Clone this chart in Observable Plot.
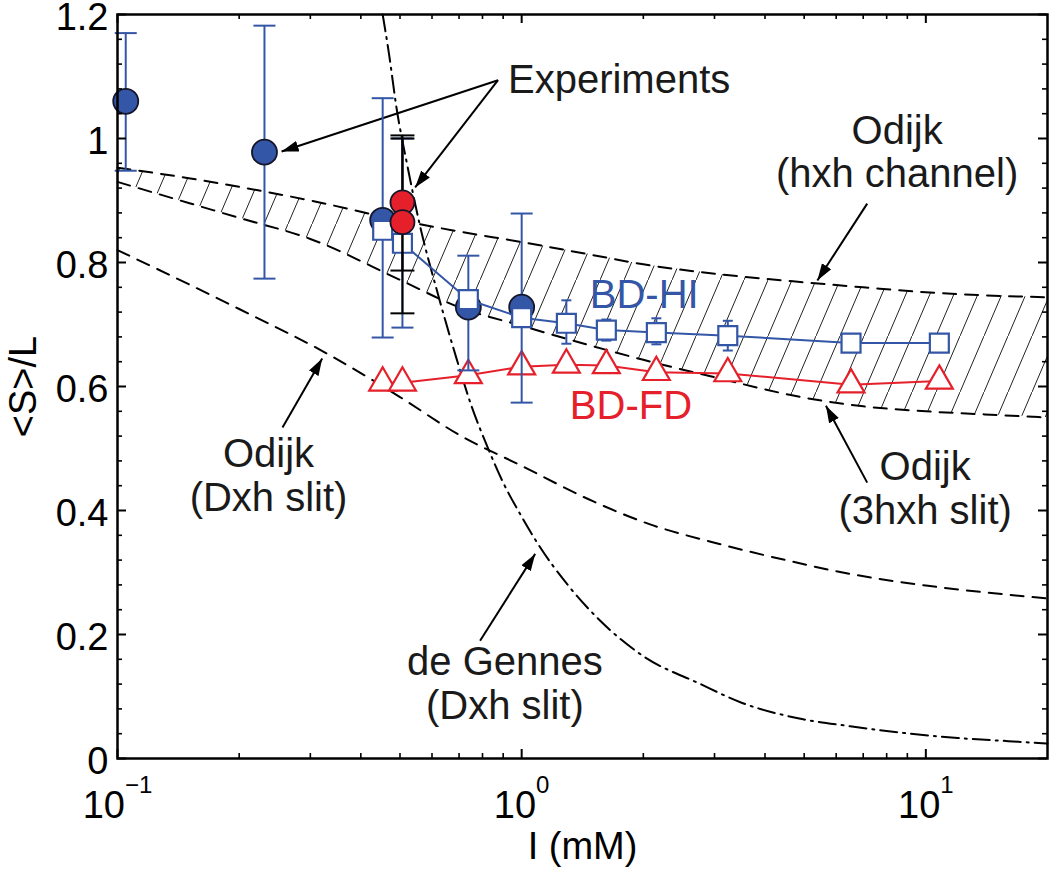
<!DOCTYPE html>
<html>
<head>
<meta charset="utf-8">
<script src="https://cdn.jsdelivr.net/npm/d3@7"></script>
<script src="https://cdn.jsdelivr.net/npm/@observablehq/plot@0.6"></script>
<style>
  body { margin: 0; background: #fff; }
  #chart svg { display: block; }
</style>
</head>
<body>
<div id="chart"></div>
<script>
// ---------------- DATA ----------------
// Axis ticks
const xTickValues = [0.1, 1, 10];
const xTickBase = "10";
const xTickExp = ["\u22121", "0", "1"];
const xMinorTicks = [0.2, 0.3, 0.4, 0.5, 0.6, 0.7, 0.8, 0.9, 2, 3, 4, 5, 6, 7, 8, 9];
const yTickValues = [0, 0.2, 0.4, 0.6, 0.8, 1.0, 1.2];
const yMinorTicks = [0.04,0.08,0.12,0.16,0.24,0.28,0.32,0.36,0.44,0.48,0.52,0.56,0.64,0.68,0.72,0.76,0.84,0.88,0.92,0.96,1.04,1.08,1.12,1.16];

// Experiments (blue circles with error bars)
const expX  = [0.1048, 0.231, 0.453, 0.738, 1.0];
const expY  = [1.060, 0.978, 0.868, 0.728, 0.728];
const expLo = [0.948, 0.774, 0.679, 0.626, 0.574];
const expHi = [1.170, 1.182, 1.065, 0.811, 0.879];
// extra blue error bar (marker hidden)
const expExtraX = [0.507];
const expExtraLo = [0.695];
const expExtraHi = [1.0];

// Experiments (red circles, black error bars)
const redX  = [0.507, 0.507];
const redY  = [0.897, 0.865];
const redLo = [0.787, 0.718];
const redHi = [1.005, 1.000];

// Simulations
const simX = [0.453, 0.507, 0.738, 1.0, 1.29, 1.62, 2.154, 3.236, 6.53, 10.8];
const bdHI = [0.852, 0.831, 0.740, 0.711, 0.702, 0.691, 0.687, 0.682, 0.670, 0.670];
const bdFD = [0.606, 0.606, 0.618, 0.632, 0.635, 0.634, 0.623, 0.621, 0.603, 0.609];
const hiErrX  = [1.29, 1.62, 2.154, 3.236];
const hiErrLo = [0.669, 0.674, 0.668, 0.658];
const hiErrHi = [0.739, 0.708, 0.710, 0.706];

// Theory curves
const odijkBandX = [0.1, 0.15, 0.2, 0.3, 0.5, 0.7, 1, 1.5, 2, 3, 5, 7, 10, 14, 20];
const odijkChannelY = [0.953, 0.936, 0.922, 0.900, 0.868, 0.850, 0.833, 0.812, 0.797, 0.782, 0.768, 0.760, 0.752, 0.747, 0.744];
const odijk3hSlitY  = [0.930, 0.896, 0.872, 0.838, 0.772, 0.728, 0.698, 0.665, 0.643, 0.615, 0.582, 0.568, 0.560, 0.555, 0.550];

const odijkSlitX = [0.1, 0.15, 0.2, 0.33, 0.5, 0.7, 1, 1.5, 2.07, 3, 4.5, 6.46, 10, 14, 20];
const odijkSlitY = [0.820, 0.765, 0.725, 0.653, 0.583, 0.522, 0.472, 0.415, 0.378, 0.348, 0.320, 0.298, 0.279, 0.268, 0.258];

const deGennesX = [0.453, 0.47, 0.49, 0.52, 0.56, 0.62, 0.69, 0.75, 0.82, 0.9, 1.0, 1.1, 1.3, 1.56, 2.0, 2.75, 3.5, 4.86, 6.5, 8.6, 12, 16, 20];
const deGennesY = [1.2, 1.135, 1.05, 0.96, 0.86, 0.75, 0.645, 0.57, 0.505, 0.445, 0.39, 0.345, 0.28, 0.223, 0.165, 0.121, 0.09, 0.0645, 0.052, 0.042, 0.033, 0.028, 0.024];

// Annotations
const noteText = ["Odijk\n(hxh channel)", "Odijk\n(3hxh slit)", "Odijk\n(Dxh slit)", "de Gennes\n(Dxh slit)"];
const noteX = [8.49, 9.96, 0.2364, 0.909];
const noteY = [0.921, 0.379, 0.400, 0.0645];
const expLabel = ["Experiments"];
const expLabelX = [0.925];
const expLabelY = [1.0726];
const arrowX1 = [0.874, 0.874, 7.16, 7.16, 0.256, 0.789];
const arrowY1 = [1.094, 1.094, 0.895, 0.445, 0.534, 0.190];
const arrowX2 = [0.2547, 0.545, 5.39, 5.66, 0.321, 1.08];
const arrowY2 = [0.979, 0.921, 0.771, 0.569, 0.645, 0.330];
const seriesLabels = ["BD-HI", "BD-FD"];
const seriesLabelX = [1.474, 1.316];
const seriesLabelY = [0.727, 0.548];

// ---------------- TABLES ----------------
const BLUE = "#3456a6", RED = "#e5202b";
const exp = expX.map((x, i) => ({x, y: expY[i], lo: expLo[i], hi: expHi[i]}));
const expExtra = expExtraX.map((x, i) => ({x, lo: expExtraLo[i], hi: expExtraHi[i]}));
const red = redX.map((x, i) => ({x, y: redY[i], lo: redLo[i], hi: redHi[i]}));
const hi = simX.map((x, i) => ({x, y: bdHI[i]}));
const fd = simX.map((x, i) => ({x, y: bdFD[i]}));
const hiErr = hiErrX.map((x, i) => ({x, lo: hiErrLo[i], hi: hiErrHi[i]}));
const band = odijkBandX.map((x, i) => ({x, lo: odijk3hSlitY[i], hi: odijkChannelY[i]}));
const slit = odijkSlitX.map((x, i) => ({x, y: odijkSlitY[i]}));
const dg = deGennesX.map((x, i) => ({x, y: deGennesY[i]}));
const notes = noteText.map((t, i) => ({t, x: noteX[i], y: noteY[i]}));
const expNote = expLabel.map((t, i) => ({t, x: expLabelX[i], y: expLabelY[i]}));
const arrows = arrowX1.map((x1, i) => ({x1, y1: arrowY1[i], x2: arrowX2[i], y2: arrowY2[i]}));
const sLabels = seriesLabels.map((t, i) => ({t, x: seriesLabelX[i], y: seriesLabelY[i], c: i === 0 ? BLUE : RED}));

// ---------------- LAYOUT ----------------
const W = 1050, H = 869, ML = 117, MR = 3, MT = 14, MB = 111;
const PW = W - ML - MR, PH = H - MT - MB;
const FONT = "'Liberation Sans', Arial, Helvetica, sans-serif";

const capSymbol = {
  draw(ctx, size) {
    const r = Math.sqrt(size / Math.PI);
    ctx.moveTo(-r, 0);
    ctx.lineTo(r, 0);
  }
};

const defsMark = () => {
  const defs = d3.create("svg:defs");
  const p = defs.append("pattern")
    .attr("id", "hatch")
    .attr("patternUnits", "userSpaceOnUse")
    .attr("width", 24)
    .attr("height", 56);
  p.append("path")
    .attr("d", "M-2,60.7L26,-4.7")
    .attr("stroke", "#222")
    .attr("stroke-width", 1)
    .attr("fill", "none");
  return defs.node();
};

const errBars = (data, color, capR) => [
  Plot.ruleX(data, {x: "x", y1: "lo", y2: "hi", stroke: color, strokeWidth: 2}),
  Plot.dot(data, {x: "x", y: "lo", symbol: capSymbol, r: capR, fill: "none", stroke: color, strokeWidth: 2}),
  Plot.dot(data, {x: "x", y: "hi", symbol: capSymbol, r: capR, fill: "none", stroke: color, strokeWidth: 2})
];

const chart = Plot.plot({
  width: W, height: H,
  marginLeft: ML, marginRight: MR, marginTop: MT, marginBottom: MB,
  x: {type: "log", domain: [0.1, 20]},
  y: {domain: [0, 1.2]},
  style: {fontFamily: FONT, background: "white", color: "black"},
  marks: [
    defsMark,
    // hatched Odijk band
    Plot.areaY(band, {x: "x", y1: "lo", y2: "hi", fill: "url(#hatch)", curve: "monotone-x"}),
    Plot.line(band, {x: "x", y: "hi", stroke: "black", strokeWidth: 2, strokeDasharray: "13,9", curve: "monotone-x"}),
    Plot.line(band, {x: "x", y: "lo", stroke: "black", strokeWidth: 2, strokeDasharray: "13,9", curve: "monotone-x"}),
    Plot.line(slit, {x: "x", y: "y", stroke: "black", strokeWidth: 2, strokeDasharray: "13,9", curve: "monotone-x"}),
    Plot.line(dg, {x: "x", y: "y", stroke: "black", strokeWidth: 2, strokeDasharray: "17,6,2,6", curve: "monotone-x"}),
    // annotations
    Plot.link(arrows, {x1: "x1", y1: "y1", x2: "x2", y2: "y2", stroke: "black", strokeWidth: 2, markerEnd: "arrow"}),
    Plot.text(notes, {x: "x", y: "y", text: "t", fontSize: 40, lineAnchor: "bottom", lineHeight: 1.08, textAnchor: "middle", fill: "#1a1a1a"}),
    Plot.text(expNote, {x: "x", y: "y", text: "t", fontSize: 40, lineAnchor: "bottom", textAnchor: "start", fill: "#1a1a1a"}),
    // BD-FD
    Plot.line(fd, {x: "x", y: "y", stroke: RED, strokeWidth: 2}),
    Plot.dot(fd, {x: "x", y: "y", symbol: "triangle", r: 10, fill: "white", stroke: RED, strokeWidth: 2.2}),
    // blue experiments
    ...errBars(expExtra, BLUE, 11),
    ...errBars(exp, BLUE, 11),
    Plot.dot(exp, {x: "x", y: "y", r: 12.5, fill: BLUE, stroke: "#15152a", strokeWidth: 1.8}),
    // BD-HI
    Plot.line(hi, {x: "x", y: "y", stroke: BLUE, strokeWidth: 2}),
    ...errBars(hiErr, BLUE, 5),
    Plot.dot(hi, {x: "x", y: "y", symbol: "square", r: 10.7, fill: "white", stroke: BLUE, strokeWidth: 2.2}),
    // red experiments with black error bars
    ...errBars(red, "black", 12),
    Plot.dot(red, {x: "x", y: "y", r: 12, fill: RED, stroke: "#15152a", strokeWidth: 1.8}),
    // series labels
    Plot.text(sLabels, {x: "x", y: "y", text: "t", fill: "c", fontSize: 40, lineAnchor: "bottom", textAnchor: "start"}),
    // inward ticks (box style)
    Plot.tickY(yTickValues, {y: d => d, insetRight: PW - 9, stroke: "black", strokeWidth: 2}),
    Plot.tickY(yTickValues, {y: d => d, insetLeft: PW - 9, stroke: "black", strokeWidth: 2}),
    Plot.tickY(yMinorTicks, {y: d => d, insetRight: PW - 5, stroke: "black", strokeWidth: 1.6}),
    Plot.tickY(yMinorTicks, {y: d => d, insetLeft: PW - 5, stroke: "black", strokeWidth: 1.6}),
    Plot.tickX(xTickValues, {x: d => d, insetTop: PH - 9, stroke: "black", strokeWidth: 2}),
    Plot.tickX(xTickValues, {x: d => d, insetBottom: PH - 9, stroke: "black", strokeWidth: 2}),
    Plot.tickX(xMinorTicks, {x: d => d, insetTop: PH - 5, stroke: "black", strokeWidth: 1.6}),
    Plot.tickX(xMinorTicks, {x: d => d, insetBottom: PH - 5, stroke: "black", strokeWidth: 1.6}),
    // axes
    Plot.axisY(yTickValues, {
      tickSize: 0, tickPadding: 9, fontSize: 38, dy: 3,
      tickFormat: d => String(Math.round(d * 10) / 10),
      label: null
    }),
    Plot.axisY([], {
      tickSize: 0, fontSize: 38,
      label: "<S>/L", labelAnchor: "center", labelOffset: 108, labelArrow: "none"
    }),
    Plot.axisX(xTickValues, {
      tickSize: 0, tickPadding: 33, fontSize: 38,
      tickFormat: () => xTickBase,
      label: "I (mM)", labelAnchor: "center", labelOffset: 100, labelArrow: "none"
    }),
    Plot.frame({stroke: "black", strokeWidth: 2.5})
  ]
});

// superscript exponents on x tick labels
d3.select(chart).selectAll('g[aria-label="x-axis tick label"] text').each(function(d, i) {
  const t = d3.select(this);
  t.text(null);
  t.append("tspan").text(xTickBase);
  t.append("tspan").attr("dy", -25).attr("font-size", 24).text(xTickExp[i]);
});

// filled arrow heads
d3.select(chart).selectAll("marker").each(function() {
  const m = d3.select(this);
  m.attr("viewBox", "-17 -6 18 12")
   .attr("markerWidth", 18).attr("markerHeight", 12)
   .attr("markerUnits", "userSpaceOnUse")
   .attr("refX", 0).attr("refY", 0)
   .attr("fill", "black").attr("stroke", "none");
  m.selectAll("*").remove();
  m.append("path").attr("d", "M-17,-5.5L0,0L-17,5.5Z").attr("fill", "black").attr("stroke", "none");
});

document.getElementById("chart").appendChild(chart);
</script>
</body>
</html>
